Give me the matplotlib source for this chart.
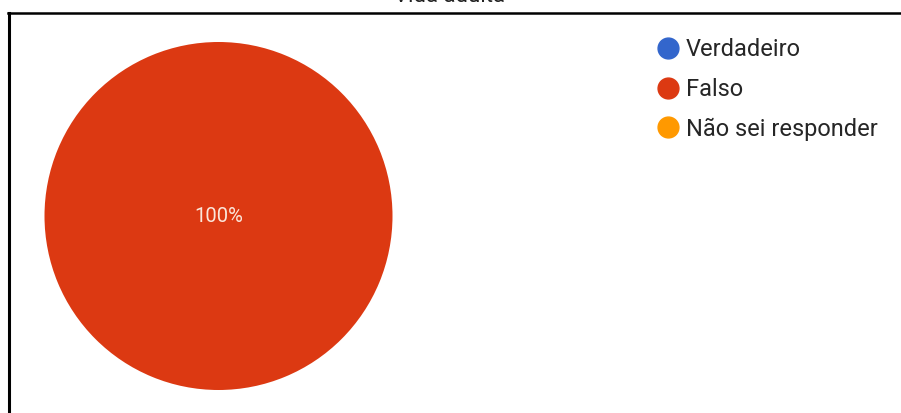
import matplotlib.pyplot as plt
from matplotlib.lines import Line2D

plt.rcParams['font.family'] = ['Roboto', 'DejaVu Sans']

TITLE = 'Vida adulta'
labels = ['Verdadeiro', 'Falso', 'Não sei responder']
values = [0, 100, 0]
colors = ['#3366cc', '#dc3912', '#ff9900']

W, H = 901, 413
fig = plt.figure(figsize=(W / 100, H / 100), dpi=100)
fig.patch.set_facecolor('white')

# pie area: centre (218, 216) px, radius ~174 px
cx, cy, r = 218.5, 216, 174
ax = fig.add_axes([(cx - r) / W, 1 - (cy + r) / H, 2 * r / W, 2 * r / H])
wedges, texts, autotexts = ax.pie(
    values, colors=colors, startangle=90, counterclock=False, radius=1,
    autopct=lambda p: f'{p:.0f}%' if p > 0 else '', pctdistance=0,
    textprops={'color': '#fbe6da', 'fontsize': 14.5},
)
ax.set_xlim(-1, 1)
ax.set_ylim(-1, 1)
ax.set_aspect('equal')
ax.axis('off')

# legend with round markers
handles = [Line2D([0], [0], marker='o', linestyle='', markersize=15,
                  markerfacecolor=c, markeredgecolor=c) for c in colors]
fig.legend(handles, labels, loc='upper left', bbox_to_anchor=(656 / W, 1 - 38 / H),
           frameon=False, fontsize=17, handletextpad=0.27, labelspacing=0.71,
           handlelength=1.0, borderaxespad=0, borderpad=0, labelcolor='#262626')

# title sits partly above the top edge
fig.text(450 / W, 1 + 3 / H, TITLE, ha='center', va='center', fontsize=16, color='#222222')

# frame lines at top and left
fig.add_artist(Line2D([8 / W, 1], [1 - 13 / H, 1 - 13 / H], color='black', linewidth=1.8))
fig.add_artist(Line2D([9 / W, 9 / W], [0, 1 - 13 / H], color='black', linewidth=2.2))

fig.savefig('out.png', dpi=100)
